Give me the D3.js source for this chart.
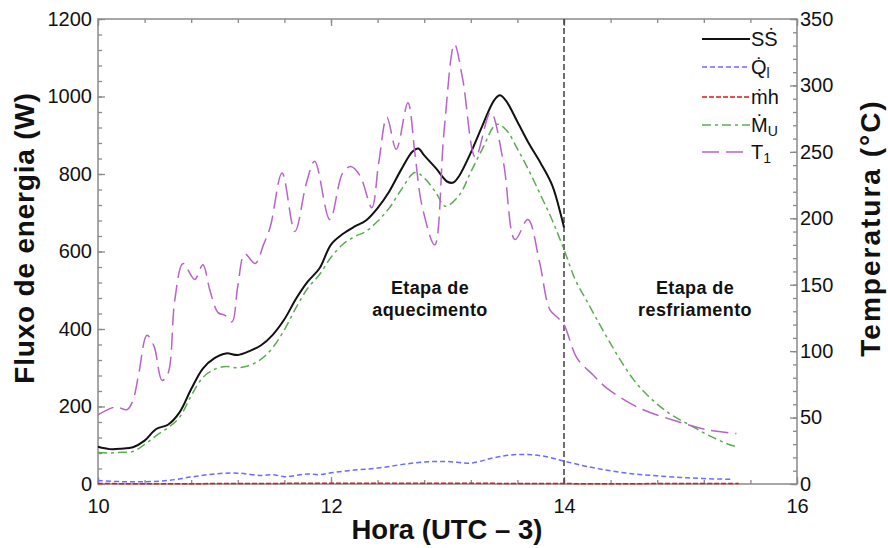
<!DOCTYPE html>
<html>
<head>
<meta charset="utf-8">
<script src="https://cdn.jsdelivr.net/npm/d3@7"></script>
<style>
  body { margin: 0; background: #fff; }
  text { font-family: "Liberation Sans", Arial, sans-serif; fill: #111; }
  .tick text { font-size: 20px; }
  .title { font-weight: bold; font-size: 27.5px; }
  .note { font-weight: bold; font-size: 18px; letter-spacing: 0.4px; }
</style>
</head>
<body>
<svg width="888" height="548"></svg>
<script>
// Energy flux series (W)
const horaSS = [10.0,10.1,10.2,10.3,10.4,10.5,10.6,10.7,10.8,10.9,11.0,11.1,11.2,11.3,11.4,11.5,11.6,11.7,11.8,11.9,12.0,12.1,12.2,12.3,12.4,12.5,12.6,12.7,12.75,12.8,12.9,13.0,13.05,13.1,13.2,13.3,13.4,13.45,13.5,13.6,13.7,13.8,13.9,14.0];
const fluxoSS = [96,90,91,95,112,142,153,185,245,298,325,337,333,343,358,385,425,478,522,556,618,645,664,680,712,755,810,858,866,848,815,780,778,795,855,925,990,1003,990,935,878,828,770,662];

const horaQ = [10.0,10.2,10.4,10.6,10.8,11.0,11.2,11.4,11.5,11.6,11.7,11.8,11.9,12.0,12.2,12.4,12.6,12.8,13.0,13.2,13.4,13.6,13.8,14.0,14.2,14.4,14.6,14.8,15.0,15.2,15.45];
const fluxoQ = [9,6,6,9,18,26,28,22,24,19,22,26,24,29,36,41,50,57,58,54,68,76,73,59,45,34,26,21,17,14,12];

const horaMH = [10.0,11.0,12.0,13.0,14.0,15.0,15.5];
const fluxoMH = [1,1,2,2,1,1,1];

const horaMU = [10.0,10.1,10.2,10.3,10.4,10.5,10.6,10.7,10.8,10.9,11.0,11.1,11.2,11.3,11.4,11.5,11.6,11.7,11.8,11.9,12.0,12.1,12.2,12.3,12.4,12.5,12.6,12.72,12.8,12.9,12.98,13.1,13.2,13.3,13.42,13.5,13.6,13.7,13.8,13.9,14.0,14.1,14.2,14.3,14.4,14.5,14.6,14.7,14.8,14.9,15.0,15.1,15.2,15.3,15.4,15.48];
const fluxoMU = [81,80,82,84,102,125,145,172,228,275,296,303,300,306,322,352,398,455,505,540,585,618,638,652,678,712,758,804,790,752,717,745,805,865,928,915,865,808,745,680,605,525,470,415,362,312,268,234,206,183,165,149,132,117,104,96];

// Temperature T1 (°C), right axis
const horaT1 = [10.0,10.15,10.25,10.3,10.35,10.42,10.48,10.55,10.6,10.66,10.73,10.83,10.9,10.96,11.03,11.09,11.15,11.2,11.26,11.35,11.42,11.48,11.58,11.69,11.79,11.86,11.99,12.1,12.17,12.25,12.35,12.41,12.48,12.56,12.66,12.72,12.78,12.89,12.97,13.06,13.13,13.24,13.37,13.48,13.58,13.69,13.79,13.88,13.95,14.0,14.11,14.25,14.37,14.65,14.94,15.22,15.48];
const tempT1 = [52,58,56,63,83,112,104,78,83,139,166,154,165,146,129,127,122,149,173,166,180,194,234,190,227,243,199,234,239,232,208,242,276,252,287,249,210,180,265,331,305,246,280,242,184,199,167,131,125,120,95,82,72,57,48,41,38];

const xTicks = [10, 12, 14, 16];
const yTicks = [0, 200, 400, 600, 800, 1000, 1200];
const tTicks = [0, 50, 100, 150, 200, 250, 300, 350];
const etapaHora = 14;

// Set the dimensions and margins of the graph
const margin = {top: 19, right: 91, bottom: 64, left: 98},
      width = 888 - margin.left - margin.right,
      height = 548 - margin.top - margin.bottom;

const svg = d3.select("svg")
  .append("g")
    .attr("transform", `translate(${margin.left},${margin.top})`);

const x = d3.scaleLinear().domain([10, 16]).range([0, width]);
const y = d3.scaleLinear().domain([0, 1200]).range([height, 0]);
const yT = d3.scaleLinear().domain([0, 350]).range([height, 0]);

const axisColor = "#8a8a8a";

function styleAxis(g) {
  g.select(".domain").remove();
  g.selectAll(".tick line").attr("stroke", axisColor).attr("stroke-width", 1.3);
  g.selectAll(".tick text").attr("fill", "#111");
}

// minor ticks
svg.append("g").attr("transform", `translate(0,${height})`)
  .call(d3.axisBottom(x).tickValues(d3.range(10, 16.01, 0.4)).tickSize(-4).tickFormat(""))
  .call(styleAxis);
svg.append("g")
  .call(d3.axisTop(x).tickValues(d3.range(10, 16.01, 0.4)).tickSize(-4).tickFormat(""))
  .call(styleAxis);
svg.append("g")
  .call(d3.axisLeft(y).tickValues(d3.range(0, 1201, 40)).tickSize(-4).tickFormat(""))
  .call(styleAxis);
svg.append("g").attr("transform", `translate(${width},0)`)
  .call(d3.axisRight(yT).tickValues(d3.range(0, 351, 10)).tickSize(-4).tickFormat(""))
  .call(styleAxis);

// major ticks and labels
svg.append("g").attr("transform", `translate(0,${height})`)
  .call(d3.axisBottom(x).tickValues(xTicks).tickSize(-7).tickPadding(15).tickFormat(d3.format("d")))
  .call(styleAxis);
svg.append("g")
  .call(d3.axisTop(x).tickValues(xTicks).tickSize(-7).tickFormat(""))
  .call(styleAxis);
svg.append("g")
  .call(d3.axisLeft(y).tickValues(yTicks).tickSize(-7).tickPadding(6).tickFormat(d3.format("d")))
  .call(styleAxis);
svg.append("g").attr("transform", `translate(${width},0)`)
  .call(d3.axisRight(yT).tickValues(tTicks).tickSize(-7).tickPadding(3).tickFormat(d3.format("d")))
  .call(styleAxis);

// frame
svg.append("rect")
  .attr("width", width).attr("height", height)
  .attr("fill", "none").attr("stroke", axisColor).attr("stroke-width", 1.5);

// stage separator
svg.append("line")
  .attr("x1", x(etapaHora)).attr("x2", x(etapaHora))
  .attr("y1", 0).attr("y2", height)
  .attr("stroke", "#333").attr("stroke-width", 1.4).attr("stroke-dasharray", "6,3");

const series = [
  {hora: horaSS, val: fluxoSS, scale: y, color: "#111", w: 2, dash: null},
  {hora: horaQ, val: fluxoQ, scale: y, color: "#6b6bff", w: 1.5, dash: "5,3"},
  {hora: horaMH, val: fluxoMH, scale: y, color: "#e01818", w: 1.5, dash: "5,2"},
  {hora: horaMU, val: fluxoMU, scale: y, color: "#5aae4f", w: 1.5, dash: "9,4,3,4"},
  {hora: horaT1, val: tempT1, scale: yT, color: "#b763c9", w: 1.5, dash: "17,7"}
];

series.forEach(s => {
  const pts = s.hora.map((h, i) => [h, s.val[i]]);
  svg.append("path")
    .datum(pts)
    .attr("fill", "none")
    .attr("stroke", s.color)
    .attr("stroke-width", s.w)
    .attr("stroke-dasharray", s.dash)
    .attr("d", d3.line()
      .x(d => x(d[0]))
      .y(d => s.scale(d[1]))
      .curve(d3.curveCatmullRom.alpha(0.5)));
});

// Legend
const legend = svg.append("g").attr("transform", `translate(${702 - margin.left},${39 - margin.top})`);
const legendLabels = [
  [["S"], ["S\u0307"]],
  [["Q\u0307"], ["l", "sub"]],
  [["m\u0307h"]],
  [["M\u0307"], ["U", "sub"]],
  [["T"], ["1", "sub"]]
];
series.forEach((s, i) => {
  const gy = [0, 28, 58, 86, 113][i];
  legend.append("line")
    .attr("x1", 0).attr("x2", 48).attr("y1", gy).attr("y2", gy)
    .attr("stroke", s.color).attr("stroke-width", s.w)
    .attr("stroke-dasharray", s.dash);
  const t = legend.append("text")
    .attr("x", 49).attr("y", gy + 7)
    .style("font-size", "20px");
  legendLabels[i].forEach(part => {
    const ts = t.append("tspan").text(part[0]);
    if (part[1] === "sub") ts.attr("dy", 4).style("font-size", "14px");
  });
});

// Stage annotations
function note(cx, lines) {
  lines.forEach((l, i) => {
    svg.append("text").attr("class", "note")
      .attr("x", cx).attr("y", 294 - margin.top + i * 22)
      .attr("text-anchor", "middle").text(l);
  });
}
note(430 - margin.left, ["Etapa de", "aquecimento"]);
note(695 - margin.left, ["Etapa de", "resfriamento"]);

// Axis titles
svg.append("text").attr("class", "title")
  .attr("text-anchor", "middle")
  .attr("x", 447 - margin.left).attr("y", 539 - margin.top)
  .text("Hora (UTC \u2013 3)");
svg.append("text").attr("class", "title")
  .attr("text-anchor", "middle")
  .style("font-size", "28px").style("letter-spacing", "0.8px")
  .attr("transform", `translate(${34 - margin.left},${238 - margin.top}) rotate(-90)`)
  .text("Fluxo de energia (W)");
svg.append("text").attr("class", "title")
  .attr("text-anchor", "middle")
  .style("font-size", "28px").style("letter-spacing", "2px")
  .attr("transform", `translate(${880 - margin.left},${228 - margin.top}) rotate(-90)`)
  .text("Temperatura (\u00B0C)");
</script>
</body>
</html>
